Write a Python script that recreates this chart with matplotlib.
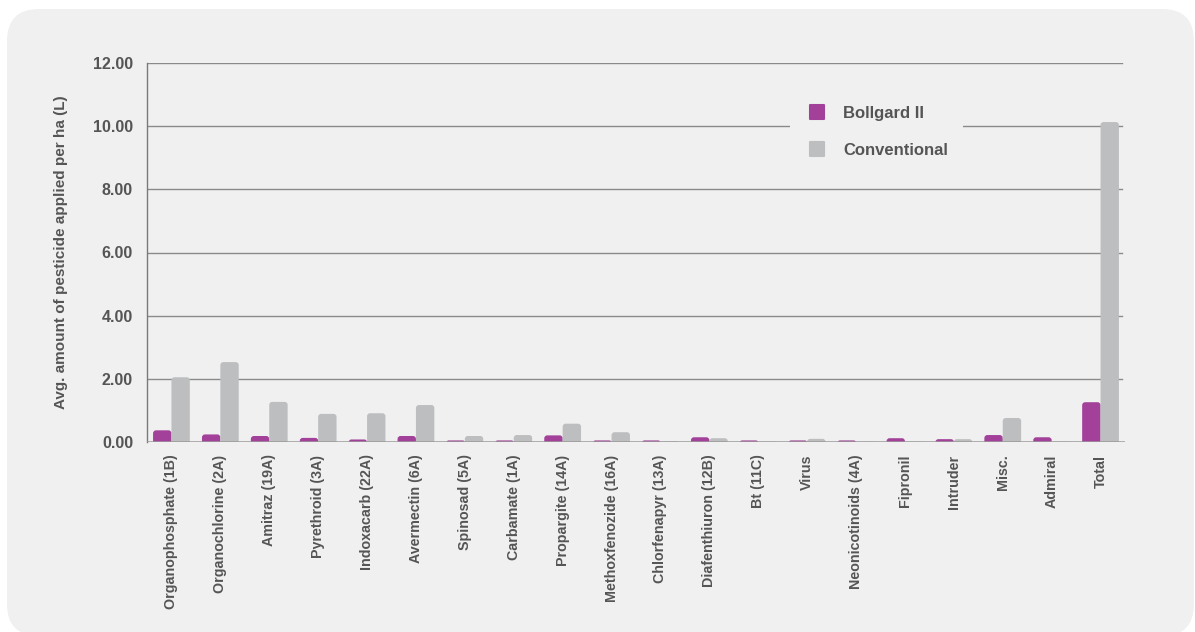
import matplotlib
matplotlib.use("Agg")
import matplotlib.pyplot as plt
import numpy as np
from matplotlib.patches import FancyBboxPatch
from matplotlib.transforms import IdentityTransform
from matplotlib.lines import Line2D
from matplotlib.markers import MarkerStyle

categories = ["Organophosphate (1B)", "Organochlorine (2A)", "Amitraz (19A)",
              "Pyrethroid (3A)", "Indoxacarb (22A)", "Avermectin (6A)",
              "Spinosad (5A)", "Carbamate (1A)", "Propargite (14A)",
              "Methoxfenozide (16A)", "Chlorfenapyr (13A)", "Diafenthiuron (12B)",
              "Bt (11C)", "Virus", "Neonicotinoids (4A)", "Fipronil", "Intruder",
              "Misc.", "Admiral", "Total"]
bollgard = [0.37, 0.24, 0.19, 0.13, 0.08, 0.19, 0.05, 0.05, 0.21, 0.05,
            0.05, 0.15, 0.05, 0.05, 0.05, 0.12, 0.09, 0.22, 0.15, 1.26]
conventional = [2.05, 2.53, 1.27, 0.89, 0.91, 1.17, 0.19, 0.22, 0.58, 0.31,
                0.02, 0.12, 0.01, 0.10, 0.01, 0.01, 0.09, 0.76, 0.01, 10.13]
series_names = ["Bollgard II", "Conventional"]
yticks = [0, 2, 4, 6, 8, 10, 12]
ylabel = "Avg. amount of pesticide applied per ha (L)"

MAGENTA = "#a3419a"
GREY = "#bdbec0"
PANEL = "#f0f0f0"
TEXT = "#555555"
FONT = "Liberation Sans"

W, H = 1195, 632
fig = plt.figure(figsize=(W / 100, H / 100), dpi=100)
fig.patch.set_facecolor("white")

# rounded background panel (pixel coordinates, origin bottom-left)
panel = FancyBboxPatch((7, H - 636), 1194 - 7, 636 - 9,
                       boxstyle="round,pad=0,rounding_size=32",
                       transform=IdentityTransform(), facecolor=PANEL,
                       edgecolor="none", zorder=-10)
fig.patches.append(panel)

AX_L, AX_R, AX_T, AX_B = 147, 1125, 63, 442
ax = fig.add_axes([AX_L / W, 1 - AX_B / H, (AX_R - AX_L) / W, (AX_B - AX_T) / H])
ax.set_facecolor("none")
ax.set_zorder(1)

n = len(categories)
x = np.arange(n)
bw = 0.376
ax.set_xlim(-0.5, n - 0.5)
ax.set_ylim(0, 12)

bars_b = ax.bar(x - bw / 2, bollgard, width=bw, color=MAGENTA, zorder=3)
bars_c = ax.bar(x + bw / 2, conventional, width=bw, color=GREY, zorder=3)

# give the bars rounded tops (same geometry as the bar rectangles)
x_per_px = n / (AX_R - AX_L)
y_per_px = 12 / (AX_B - AX_T)
aspect = y_per_px / x_per_px
r = 3 * x_per_px
for container in (bars_b, bars_c):
    for rect in container:
        rect.set_visible(False)
        bx, bwid, bh = rect.get_x(), rect.get_width(), rect.get_height()
        ext = r * aspect
        tot = bh + ext
        rr = min(r, tot / aspect / 2, bwid / 2)
        p = FancyBboxPatch((bx, -ext), bwid, tot,
                           boxstyle=f"round,pad=0,rounding_size={rr}",
                           mutation_aspect=aspect, facecolor=rect.get_facecolor(),
                           edgecolor="none", zorder=3)
        ax.add_patch(p)

ax.set_yticks(yticks)
ax.set_yticklabels([f"{v:.2f}" for v in yticks], fontsize=11.5,
                   fontweight="bold", color=TEXT, family=FONT)
ax.set_xticks(x)
ax.set_xticklabels(categories, rotation=90, fontsize=10.3, fontweight="bold",
                   color=TEXT, family=FONT)
ax.tick_params(axis="both", length=0)
ax.tick_params(axis="y", pad=10)
ax.tick_params(axis="x", pad=9)

gx = (1122 - AX_L) / (AX_R - AX_L)
for v in yticks[1:]:
    ax.axhline(v, xmax=gx, color="#8a8a8a", lw=1.0, zorder=1)
ax.axhline(0, color="#9a9a9a", lw=1.8, zorder=4)

for s in ["top", "right", "bottom"]:
    ax.spines[s].set_visible(False)
ax.spines["left"].set_color("#7a7a7a")
ax.spines["left"].set_linewidth(1.0)

ax.set_ylabel(ylabel, fontsize=11, fontweight="bold", color=TEXT, family=FONT)
ax.yaxis.set_label_coords(-(AX_L - 68) / (AX_R - AX_L), 0.5)

sq = MarkerStyle("s", joinstyle="round")
handles = [Line2D([], [], ls="none", marker=sq, markersize=9.5,
                  markerfacecolor=c, markeredgecolor=c, markeredgewidth=1.5)
           for c in (MAGENTA, GREY)]
leg = ax.legend(handles, series_names, loc="upper left",
                bbox_to_anchor=((790 - AX_L) / (AX_R - AX_L), 0.927),
                frameon=True, facecolor=PANEL,
                edgecolor="none", framealpha=1.0, borderpad=0.9,
                labelspacing=1.35, handletextpad=0.9, handlelength=1.4,
                borderaxespad=0,
                prop={"family": FONT, "weight": "bold", "size": 12})
for t in leg.get_texts():
    t.set_color(TEXT)
leg.get_frame().set_boxstyle("square,pad=0")
leg.set_zorder(5)

fig.savefig("out.png", dpi=100)
